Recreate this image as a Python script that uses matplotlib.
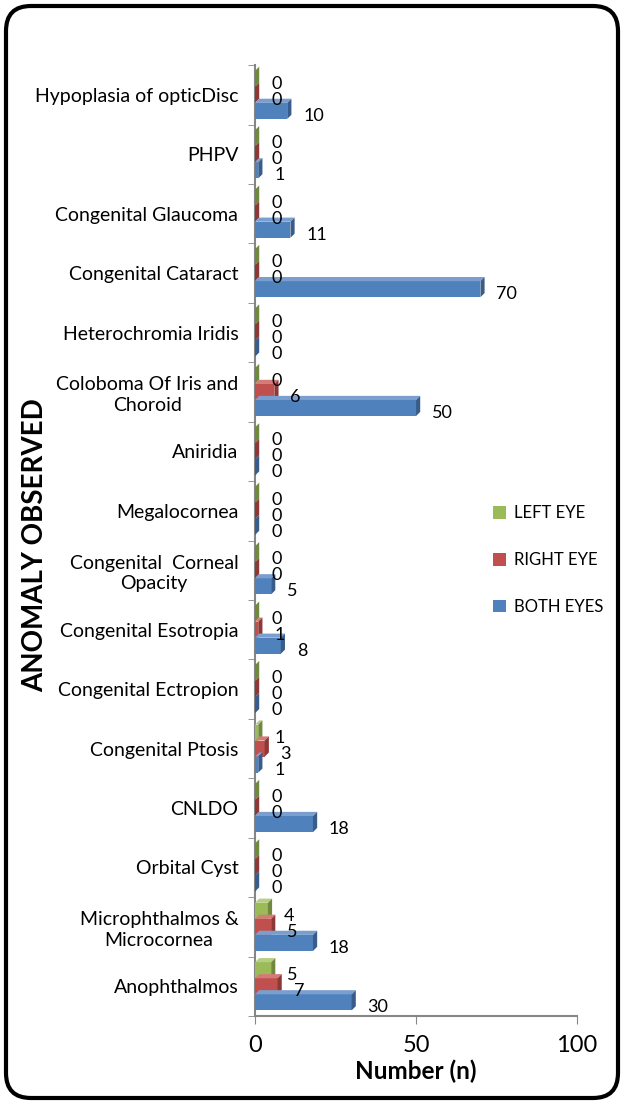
import matplotlib.pyplot as plt
from matplotlib.patches import Polygon, FancyBboxPatch
import numpy as np

plt.rcParams['font.family'] = ['Lato', 'DejaVu Sans']

# categories bottom to top
categories = ["Anophthalmos", "Microphthalmos &\nMicrocornea", "Orbital Cyst", "CNLDO",
              "Congenital Ptosis", "Congenital Ectropion", "Congenital Esotropia",
              "Congenital  Corneal\nOpacity", "Megalocornea", "Aniridia",
              "Coloboma Of Iris and\nChoroid", "Heterochromia Iridis", "Congenital Cataract",
              "Congenital Glaucoma", "PHPV", "Hypoplasia of opticDisc"]
left_eye = [5, 4, 0, 0, 1, 0, 0, 0, 0, 0, 0, 0, 0, 0, 0, 0]
right_eye = [7, 5, 0, 0, 3, 0, 1, 0, 0, 0, 6, 0, 0, 0, 0, 0]
both_eyes = [30, 18, 0, 18, 1, 0, 8, 5, 0, 0, 50, 0, 70, 11, 1, 10]

series = [("LEFT EYE", left_eye, "#9BBB59", "#71893F", "#B5CF80"),
          ("RIGHT EYE", right_eye, "#C0504D", "#8C3836", "#D47B78"),
          ("BOTH EYES", both_eyes, "#4F81BD", "#385D8A", "#7A9FCF")]

fig = plt.figure(figsize=(6.24, 11.04), dpi=100)
ax = fig.add_axes([0.4087, 0.0797, 0.516, 0.8613])

y = np.arange(len(categories))
h = 0.27
offsets = [h, 0, -h]
dx = 1.3
dy = 0.07

for (name, vals, col, dark, light), off in zip(series, offsets):
    ax.barh(y + off, vals, height=h, color=col, label=name, zorder=3)
    for yi, v in zip(y, vals):
        y0 = yi + off - h / 2
        y1 = yi + off + h / 2
        side = Polygon([(v, y0), (v + dx, y0 + dy), (v + dx, y1 + dy), (v, y1)],
                       closed=True, facecolor=dark, edgecolor='none', zorder=4)
        top = Polygon([(0, y1), (dx, y1 + dy), (v + dx, y1 + dy), (v, y1)],
                      closed=True, facecolor=light, edgecolor='none', zorder=4)
        ax.add_patch(top)
        ax.add_patch(side)
        ax.annotate(str(v), (v, yi + off), xytext=(11.5, -3.6), textcoords='offset points',
                    ha='left', va='center', fontsize=13, zorder=5)

ax.set_xlim(0, 100)
ax.set_ylim(-0.5, len(categories) - 0.5)
ax.set_xticks([0, 50, 100])
ax.set_yticks(y)
ax.set_yticklabels(categories, fontsize=14, multialignment='center', linespacing=1.25)
ax.set_yticks(np.arange(-0.5, len(categories)), minor=True)
ax.tick_params(axis='y', which='major', length=0, pad=12)
ax.tick_params(axis='y', which='minor', length=5, color='#868686', direction='out')
ax.tick_params(axis='x', length=6, color='#868686', labelsize=17, pad=8)

for s in ['top', 'right']:
    ax.spines[s].set_visible(False)
for s in ['left', 'bottom']:
    ax.spines[s].set_color('#868686')
    ax.spines[s].set_linewidth(1.5)

ax.set_xlabel("Number (n)", fontsize=17.5, fontweight='bold', labelpad=2)
fig.text(35 / 624, 1 - 545 / 1104, "ANOMALY OBSERVED", rotation=90, fontsize=20,
         fontweight='bold', ha='center', va='center')

ax.legend(loc='center left', bbox_to_anchor=(493 / 624, 1 - 560 / 1104),
          bbox_transform=fig.transFigure, frameon=False, fontsize=12,
          handlelength=0.8, handleheight=0.8, labelspacing=1.85, handletextpad=0.45,
          borderpad=0, borderaxespad=0)

frame = FancyBboxPatch((6 / 624, 6 / 1104), 612 / 624, 1092 / 1104,
                       boxstyle="round,pad=0,rounding_size=0.04", transform=fig.transFigure,
                       facecolor='none', edgecolor='black', linewidth=3,
                       mutation_aspect=624 / 1104)
fig.patches.append(frame)

fig.savefig("out.png", dpi=100)
